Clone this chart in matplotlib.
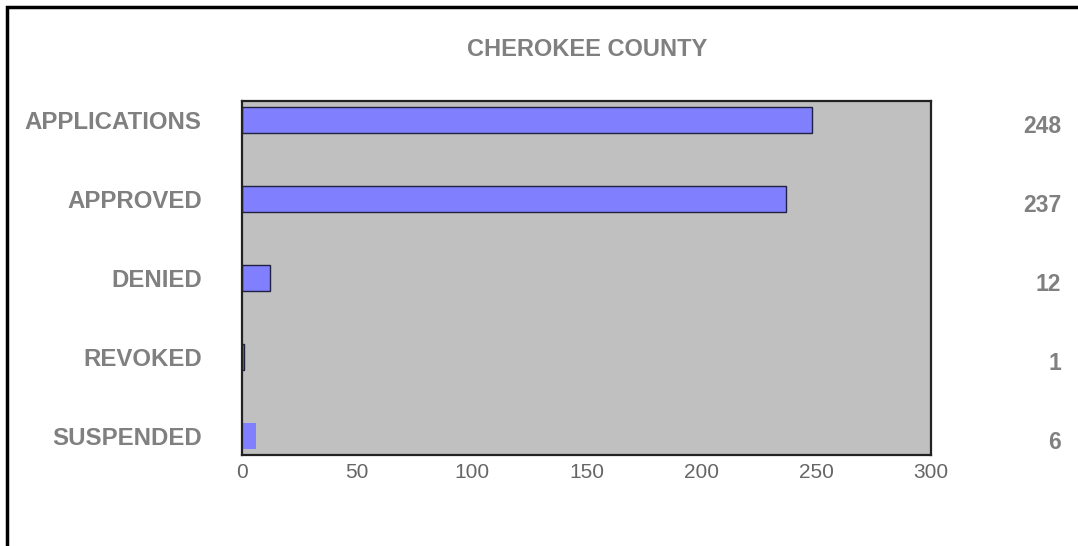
import matplotlib
matplotlib.use('Agg')
import matplotlib.pyplot as plt
from matplotlib.patches import Rectangle
from matplotlib.transforms import offset_copy

# data
title = 'CHEROKEE COUNTY'
categories = ['APPLICATIONS', 'APPROVED', 'DENIED', 'REVOKED', 'SUSPENDED']
counts = [248, 237, 12, 1, 6]
x_ticks = [0, 50, 100, 150, 200, 250, 300]

plt.rcParams['font.family'] = ['Liberation Sans', 'DejaVu Sans']
label_grey = '#808080'

fig = plt.figure(figsize=(10.78, 5.46), dpi=100)
fig.patch.set_facecolor('white')

# outer frame (only the left and top edges show in the picture)
fig.patches.append(Rectangle((7 / 1078, -0.5), 2.0, (1 - 7 / 546) + 0.5,
                             transform=fig.transFigure, fill=False,
                             edgecolor='black', linewidth=2.5))

ax = fig.add_axes([242 / 1078, 91 / 546, 689 / 1078, 354 / 546])
ax.set_facecolor('#c0c0c0')

ypos = list(range(len(categories)))
bars = ax.barh(ypos, counts, height=0.33, color='#8080ff',
               edgecolor='#202040', linewidth=1.0)
bars[-1].set_edgecolor('none')

ax.set_xlim(0, 300)
ax.set_ylim(len(categories) - 1 + 0.24, -0.24)
ax.set_xticks(x_ticks)
ax.set_xticklabels([str(t) for t in x_ticks], fontsize=15, color='#666666')
ax.tick_params(axis='x', length=0, pad=6)

ax.set_yticks(ypos)
ax.set_yticklabels(categories, fontsize=17.3, fontweight='bold', color=label_grey)
ax.tick_params(axis='y', length=0, pad=29)

for s in ax.spines.values():
    s.set_color('#222222')
    s.set_linewidth(1.6)

# value labels on the right, slightly below each bar's centre
trans = offset_copy(ax.get_yaxis_transform(), fig=fig, x=0, y=-5, units='points')
for y, v in zip(ypos, counts):
    ax.text((1061 - 242) / 689, y, str(v), transform=trans, ha='right', va='center',
            fontsize=16.5, fontweight='bold', color=label_grey)

fig.text(587 / 1078, 1 - 50 / 546, title, ha='center', va='center',
         fontsize=17, fontweight='bold', color=label_grey)

fig.savefig('out.png', dpi=100)
